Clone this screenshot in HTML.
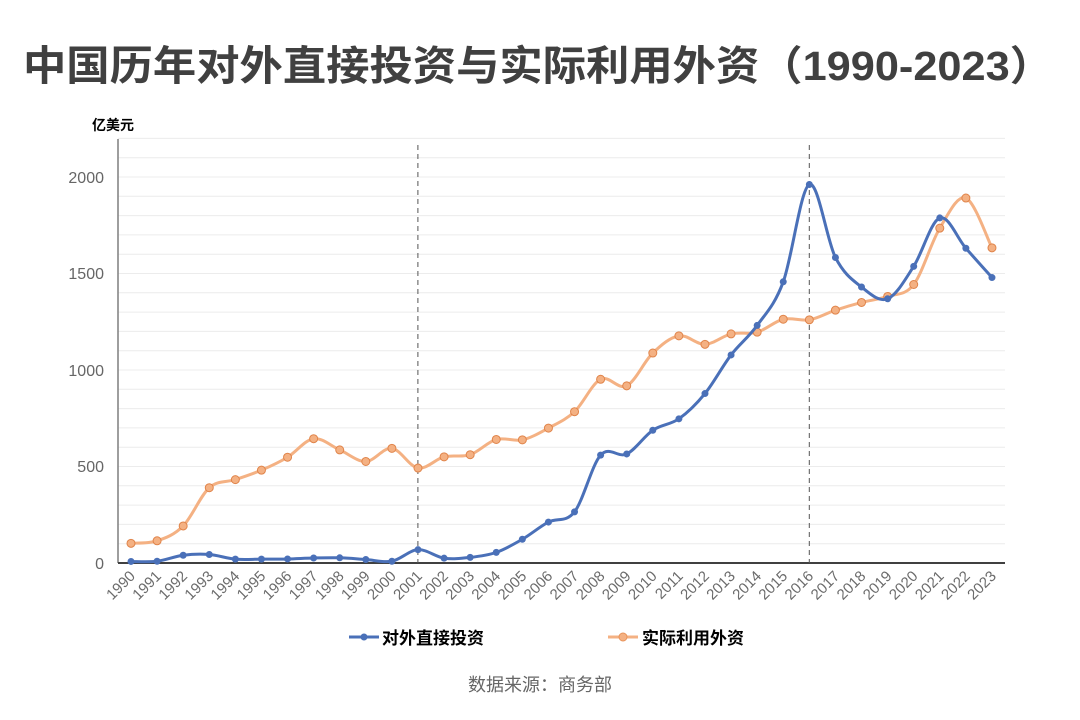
<!DOCTYPE html>
<html><head><meta charset="utf-8"><style>
html,body{margin:0;padding:0;background:#fff;width:1080px;height:720px;overflow:hidden}
svg text{font-family:"Liberation Sans","Noto Sans CJK SC",sans-serif}
</style></head><body>
<svg id="s" width="1080" height="720" xmlns="http://www.w3.org/2000/svg">
<text x="538" y="80" text-anchor="middle" font-size="41" font-weight="bold" fill="#404040" textLength="1030" lengthAdjust="spacingAndGlyphs">中国历年对外直接投资与实际利用外资（1990-2023）</text>
<text x="92" y="130" font-size="14" font-weight="bold" fill="#000">亿美元</text>
<g id="grid" stroke="#ececec" stroke-width="1"></g>
<line x1="118" y1="139" x2="118" y2="563" stroke="#7f7f7f" stroke-width="1.5"/>
<line x1="118" y1="563" x2="1005" y2="563" stroke="#404040" stroke-width="2"/>
<g font-size="16" fill="#666" text-anchor="end">
<text x="104" y="569">0</text><text x="104" y="472">500</text><text x="104" y="376">1000</text><text x="104" y="279">1500</text><text x="104" y="183">2000</text>
</g>
<line x1="417.9" y1="145" x2="417.9" y2="563" stroke="#555" stroke-dasharray="5,4"/>
<line x1="809.3" y1="145" x2="809.3" y2="563" stroke="#555" stroke-dasharray="5,4"/>
<g id="xl" font-size="15" fill="#6b6b6b" text-anchor="end">
<text>1990</text><text>1991</text><text>1992</text><text>1993</text><text>1994</text><text>1995</text><text>1996</text><text>1997</text><text>1998</text><text>1999</text><text>2000</text><text>2001</text><text>2002</text><text>2003</text><text>2004</text><text>2005</text><text>2006</text><text>2007</text><text>2008</text><text>2009</text><text>2010</text><text>2011</text><text>2012</text><text>2013</text><text>2014</text><text>2015</text><text>2016</text><text>2017</text><text>2018</text><text>2019</text><text>2020</text><text>2021</text><text>2022</text><text>2023</text>
</g>
<g id="series"></g>
<line x1="349" y1="637" x2="379" y2="637" stroke="#4a70b8" stroke-width="3"/><circle cx="364" cy="637" r="3.5" fill="#4a70b8"/>
<text x="382" y="644" font-size="17" font-weight="bold" fill="#000">对外直接投资</text>
<line x1="608" y1="637" x2="638" y2="637" stroke="#f4b183" stroke-width="3"/><circle cx="623" cy="637" r="4" fill="#f4b183" stroke="#e8935a" stroke-width="1"/>
<text x="642" y="644" font-size="17" font-weight="bold" fill="#000">实际利用外资</text>
<text x="540" y="691" text-anchor="middle" font-size="18" fill="#666">数据来源：商务部</text>
</svg>
<script>
var NS="http://www.w3.org/2000/svg";
function X(i){return 131+26.09*i}
function Y(v){return 563-v*0.193}
var g=document.getElementById('grid');
for(var v=100;v<=2200;v+=100){var l=document.createElementNS(NS,'line');l.setAttribute('x1',118);l.setAttribute('x2',1005);l.setAttribute('y1',Y(v));l.setAttribute('y2',Y(v));g.appendChild(l);}
var t=document.querySelectorAll('#xl text');
t.forEach(function(e,i){var x=X(i)+5,y=577;e.setAttribute('x',x);e.setAttribute('y',y);e.setAttribute('transform','rotate(-45 '+x+' '+y+')');});
var odi=[8,9,40,44,20,20,21,26,27,18,9,69,25,29,55,123,212,265,559,565,688,747,878,1078,1231,1457,1961,1583,1430,1369,1537,1788,1631,1479];
var fdi=[102,115,192,390,432,481,548,644,586,526,594,492,550,561,640,638,699,784,952,918,1088,1177,1133,1187,1196,1263,1260,1310,1350,1381,1443,1735,1891,1633];
function path(d){var p=d.map(function(v,i){return[X(i),Y(v)]});var s='M'+p[0][0]+','+p[0][1];
for(var i=0;i<p.length-1;i++){var a=p[i-1]||p[i],b=p[i],c=p[i+1],e=p[i+2]||c,k=1/6;
s+='C'+(b[0]+(c[0]-a[0])*k)+','+(b[1]+(c[1]-a[1])*k)+' '+(c[0]-(e[0]-b[0])*k)+','+(c[1]-(e[1]-b[1])*k)+' '+c[0]+','+c[1];}return s;}
var S=document.getElementById('series');
function draw(d,col,mk,st){var pa=document.createElementNS(NS,'path');pa.setAttribute('d',path(d));pa.setAttribute('fill','none');pa.setAttribute('stroke',col);pa.setAttribute('stroke-width',3);S.appendChild(pa);
d.forEach(function(v,i){var c=document.createElementNS(NS,'circle');c.setAttribute('cx',X(i));c.setAttribute('cy',Y(v));c.setAttribute('r',mk);c.setAttribute('fill',col);if(st){c.setAttribute('stroke',st);c.setAttribute('stroke-width',1);}S.appendChild(c);});}
draw(fdi,'#f4b183',4,'#e0844a');
draw(odi,'#4a70b8',3.5,null);
</script>
</body></html>
